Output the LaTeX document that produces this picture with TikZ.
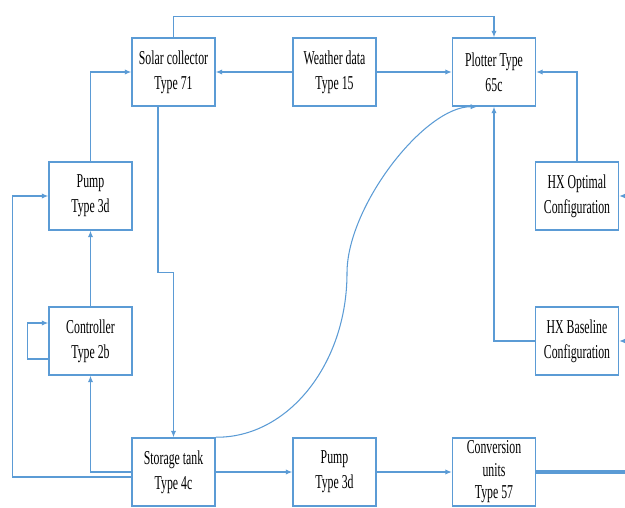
\documentclass[tikz,border=0pt]{standalone}
\usepackage{fontspec}
\setmainfont{Liberation Serif}[FakeStretch=0.6]
\usetikzlibrary{arrows.meta,positioning}
\definecolor{lineblue}{RGB}{91,155,213}

\begin{document}
\begin{tikzpicture}[x=0.02cm, y=-0.02cm, >={Latex[length=3.6pt,width=3pt]},
    box/.style={rectangle, draw=lineblue, line width=0.9pt, minimum height=1.36cm, minimum width=1.66cm,
      align=center, inner sep=1pt, font=\fontsize{11.2}{14.2}\selectfont},
    wire/.style={draw=lineblue, line width=0.6pt}]
    %  \draw[help lines] (0, 0) grid (625, 507);
      \useasboundingbox (0, 0) rectangle (625, 507);

      \node [box] (solar) at (173.5, 72) {Solar collector\\Type 71};
      \node [box] (weather) at (334.5, 72) {Weather data\\Type 15};
      \node [box] (plotter) at (494, 72) {Plotter Type\\65c};
      \node [box] (pumpA) at (90.5, 196) {Pump\\Type 3d};
      \node [box] (ctrl) at (90.5, 341) {Controller\\Type 2b};
      \node [box] (hxopt) at (577, 196) {HX Optimal\\Configuration};
      \node [box] (hxbase) at (577, 341) {HX Baseline\\Configuration};
      \node [box] (tank) at (173.5, 472) {Storage tank\\Type 4c};
      \node [box] (pumpB) at (334.5, 472) {Pump\\Type 3d};
      \node [box, font=\fontsize{11.2}{12.8}\selectfont] (conv) at (494, 472) {Conversion\\units\\Type 57};

      \coordinate (optin) at (625, 196);
      \coordinate (basein) at (625, 341);
      \coordinate (convout) at (625, 472);

      \draw[wire, ->] (solar.north) -- ++(0, -21) -| (plotter.north);
      \draw[wire, ->] (weather.west) -- (solar.east);
      \draw[wire, ->] (weather.east) -- (plotter.west);
      \draw[wire, ->] (pumpA.north) |- (solar.west);
      \draw[wire, ->] (ctrl.north) -- (pumpA.south);
      \draw[wire, ->] ([yshift=-0.36cm]ctrl.west) -- ++(-21, 0) |- ([yshift=0.36cm]ctrl.west);
      \draw[wire, ->] (tank.west) -| (ctrl.south);
      \draw[wire, ->] ([yshift=-0.1cm]tank.west) -- ++(-119, 0) |- (pumpA.west);
      \draw[wire, ->] ([xshift=-0.31cm]solar.south) -- ++(0, 166) -| (tank.north);
      \draw[wire, ->] (tank.east) -- (pumpB.west);
      \draw[wire, ->] (pumpB.east) -- (conv.west);
      \draw[wire, line width=2pt] (conv.east) -- (convout);

      \draw[wire, ->] (tank.north east) .. controls (288, 438) and (347, 364) .. (347, 273)
                                        .. controls (347, 206) and (425, 106) .. ([xshift=-0.34cm]plotter.south);

      \draw[wire, ->] (hxbase.west) -| (plotter.south);
      \draw[wire, ->] (hxopt.north) |- (plotter.east);
      \draw[wire, ->] (optin) -- (hxopt.east);
      \draw[wire, ->] (basein) -- (hxbase.east);

\end{tikzpicture}
\end{document}
